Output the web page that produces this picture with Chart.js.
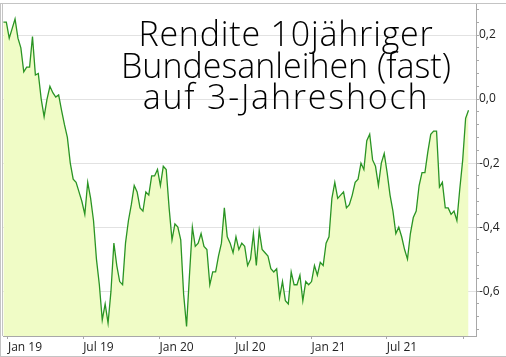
<!DOCTYPE html>
<html>
<head>
<meta charset="utf-8">
<script src="https://cdn.jsdelivr.net/npm/chart.js@4/dist/chart.umd.min.js"></script>
<style>
html, body { margin: 0; padding: 0; background: #fff; }
#wrap { position: relative; width: 506px; height: 357px; overflow: hidden; }
#c { position: absolute; left: 0; top: 0; }
#title { position: absolute; left: 86px; width: 400px; top: 18px; text-align: center;
  font-family: "Open Sans", sans-serif; font-weight: 300; font-size: 34px; line-height: 31.5px; color: #000; white-space: nowrap; }
#title .l1 { letter-spacing: 0.8px; }
#title .l3 { letter-spacing: 1.8px; }
</style>
</head>
<body>
<div id="wrap">
<canvas id="c" width="506" height="357"></canvas>
<div id="title"><span class="l1">Rendite 10jähriger</span><br>Bundesanleihen (fast)<br><span class="l3">auf 3-Jahreshoch</span></div>
</div>
<script>
// Weekly dates (Fridays)
const dates = [
 '2018-12-21','2018-12-28',
 '2019-01-04','2019-01-11','2019-01-18','2019-01-25','2019-02-01','2019-02-08','2019-02-15','2019-02-22',
 '2019-03-01','2019-03-08','2019-03-15','2019-03-22','2019-03-29','2019-04-05','2019-04-12','2019-04-19','2019-04-26',
 '2019-05-03','2019-05-10','2019-05-17','2019-05-24','2019-05-31','2019-06-07','2019-06-14','2019-06-21','2019-06-28',
 '2019-07-05','2019-07-12','2019-07-19','2019-07-26','2019-08-02','2019-08-09','2019-08-16','2019-08-23','2019-08-30',
 '2019-09-06','2019-09-13','2019-09-20','2019-09-27','2019-10-04','2019-10-11','2019-10-18','2019-10-25',
 '2019-11-01','2019-11-08','2019-11-15','2019-11-22','2019-11-29','2019-12-06','2019-12-13','2019-12-20','2019-12-27',
 '2020-01-03','2020-01-10','2020-01-17','2020-01-24','2020-01-31','2020-02-07','2020-02-14','2020-02-21','2020-02-28',
 '2020-03-06','2020-03-13','2020-03-20','2020-03-27','2020-04-03','2020-04-10','2020-04-17','2020-04-24',
 '2020-05-01','2020-05-08','2020-05-15','2020-05-22','2020-05-29','2020-06-05','2020-06-12','2020-06-19','2020-06-26',
 '2020-07-03','2020-07-10','2020-07-17','2020-07-24','2020-07-31','2020-08-07','2020-08-14','2020-08-21','2020-08-28',
 '2020-09-04','2020-09-11','2020-09-18','2020-09-25','2020-10-02','2020-10-09','2020-10-16','2020-10-23','2020-10-30',
 '2020-11-06','2020-11-13','2020-11-20','2020-11-27','2020-12-04','2020-12-11','2020-12-18','2020-12-25',
 '2021-01-01','2021-01-08','2021-01-15','2021-01-22','2021-01-29','2021-02-05','2021-02-12','2021-02-19','2021-02-26',
 '2021-03-05','2021-03-12','2021-03-19','2021-03-26','2021-04-02','2021-04-09','2021-04-16','2021-04-23','2021-04-30',
 '2021-05-07','2021-05-14','2021-05-21','2021-05-28','2021-06-04','2021-06-11','2021-06-18','2021-06-25',
 '2021-07-02','2021-07-09','2021-07-16','2021-07-23','2021-07-30','2021-08-06','2021-08-13','2021-08-20','2021-08-27',
 '2021-09-03','2021-09-10','2021-09-17','2021-09-24','2021-10-01','2021-10-08','2021-10-15','2021-10-22','2021-10-29',
 '2021-11-05','2021-11-12','2021-11-19','2021-11-26','2021-12-03','2021-12-10','2021-12-17','2021-12-24','2021-12-31',
 '2022-01-07','2022-01-14'
];
// Yield of 10-year Bunds, percent
const yields = [
 0.24, 0.24,
 0.19, 0.22, 0.25, 0.19, 0.16, 0.085, 0.10, 0.10,
 0.195, 0.075, 0.08, 0.00, -0.055, 0.00, 0.04, 0.02, 0.006,
 0.013, -0.035, -0.08, -0.12, -0.20, -0.25, -0.26, -0.29, -0.32,
 -0.36, -0.26, -0.31, -0.38, -0.50, -0.58, -0.69, -0.64, -0.70,
 -0.60, -0.45, -0.52, -0.57, -0.58, -0.45, -0.38, -0.33,
 -0.27, -0.29, -0.34, -0.35, -0.29, -0.30, -0.24, -0.24, -0.22,
 -0.27, -0.21, -0.22, -0.34, -0.44, -0.39, -0.40, -0.44, -0.61,
 -0.71, -0.55, -0.40, -0.46, -0.45, -0.42, -0.46, -0.47,
 -0.58, -0.54, -0.54, -0.49, -0.45, -0.34, -0.43, -0.45, -0.48,
 -0.43, -0.47, -0.45, -0.46, -0.52, -0.50, -0.42, -0.52, -0.41,
 -0.47, -0.48, -0.49, -0.53, -0.54, -0.53, -0.62, -0.57, -0.63,
 -0.64, -0.54, -0.58, -0.58, -0.55, -0.63, -0.57, -0.58,
 -0.57, -0.52, -0.55, -0.51, -0.52, -0.45, -0.43, -0.31, -0.26,
 -0.31, -0.30, -0.29, -0.34, -0.33, -0.30, -0.26, -0.25, -0.20,
 -0.22, -0.13, -0.11, -0.19, -0.21, -0.27, -0.20, -0.17,
 -0.23, -0.30, -0.35, -0.42, -0.40, -0.43, -0.47, -0.50, -0.42,
 -0.37, -0.35, -0.27, -0.23, -0.23, -0.165, -0.11, -0.10, -0.10,
 -0.275, -0.26, -0.34, -0.34, -0.36, -0.35, -0.38, -0.28, -0.19,
 -0.06, -0.035
];
const xTickDates = ['2019-01-01','2019-07-01','2020-01-01','2020-07-01','2021-01-01','2021-07-01','2022-01-01'];
const xTickLabels = ['Jan 19','Jul 19','Jan 20','Jul 20','Jan 21','Jul 21',''];
const xRange = ['2018-12-20','2022-02-01'];
const yLabelValues = [-0.6, -0.4, -0.2, 0, 0.2];
const yLabelTexts = ['-0,6', '-0,4', '-0,2', '0,0', '0,2'];
const yMinorStep = 0.04;
const yRange = [-0.74, 0.30];

const day = s => { const p = s.split('-').map(Number); return Date.UTC(p[0], p[1] - 1, p[2]) / 86400000; };
const points = dates.map((d, i) => ({ x: day(d), y: yields[i] }));
const xTickVals = xTickDates.map(day);
const near = (a, b) => Math.abs(a - b) < 1e-6;
const yTickVals = [];
for (let k = Math.ceil(yRange[0] / yMinorStep); k * yMinorStep <= yRange[1] + 1e-9; k++) {
  yTickVals.push(Math.round(k * yMinorStep * 1000) / 1000);
}
const isMajor = v => yLabelValues.some(m => near(m, v));
const tickFont = { family: 'Open Sans', size: 12 };

const framePlugin = {
  id: 'frame',
  afterDraw(chart) {
    const ctx = chart.ctx;
    ctx.save();
    ctx.strokeStyle = '#c4c4c4';
    ctx.lineWidth = 1;
    ctx.beginPath();
    ctx.moveTo(0, 3.5); ctx.lineTo(506, 3.5);
    ctx.moveTo(0, 356.5); ctx.lineTo(506, 356.5);
    ctx.moveTo(0.5, 3); ctx.lineTo(0.5, 357);
    ctx.moveTo(2.5, 3); ctx.lineTo(2.5, 336);
    ctx.stroke();
    ctx.restore();
  }
};

new Chart(document.getElementById('c'), {
  type: 'line',
  data: {
    datasets: [{
      data: points,
      borderColor: '#2a9424',
      borderWidth: 1.3,
      backgroundColor: '#f0fcc6',
      fill: 'start',
      pointRadius: 0,
      tension: 0
    }]
  },
  options: {
    responsive: false,
    animation: false,
    devicePixelRatio: 1,
    layout: { padding: { left: 3, top: 3, right: 0, bottom: 0 } },
    plugins: { legend: { display: false }, tooltip: { enabled: false }, title: { display: false } },
    scales: {
      x: {
        type: 'linear',
        min: day(xRange[0]),
        max: day(xRange[1]),
        afterBuildTicks: s => { s.ticks = xTickVals.map(v => ({ value: v })); },
        afterFit: s => { s.height = 21; s.paddingLeft = 0; s.paddingRight = 0; },
        ticks: {
          align: 'start', autoSkip: false, maxRotation: 0, padding: 1,
          font: tickFont, color: '#222',
          callback: v => { const i = xTickVals.findIndex(t => near(t, v)); return i >= 0 ? xTickLabels[i] : ''; }
        },
        grid: { drawOnChartArea: false, tickLength: 3, tickColor: '#a8a8a8' },
        border: { color: '#a8a8a8' }
      },
      y: {
        type: 'linear',
        position: 'right',
        min: yRange[0],
        max: yRange[1],
        afterBuildTicks: s => { s.ticks = yTickVals.map(v => ({ value: v })); },
        afterFit: s => { s.width = 30; s.paddingTop = 0; s.paddingBottom = 0; },
        ticks: {
          autoSkip: false, padding: 0, font: tickFont, color: '#222',
          callback: v => { const i = yLabelValues.findIndex(m => near(m, v)); return i >= 0 ? yLabelTexts[i] : ''; }
        },
        grid: {
          color: c => (c.tick && isMajor(c.tick.value)) ? '#e2e2e2' : 'rgba(0,0,0,0)',
          tickColor: '#a8a8a8',
          tickLength: 3
        },
        border: { color: '#a8a8a8' }
      }
    }
  },
  plugins: [framePlugin]
});
</script>
</body>
</html>
